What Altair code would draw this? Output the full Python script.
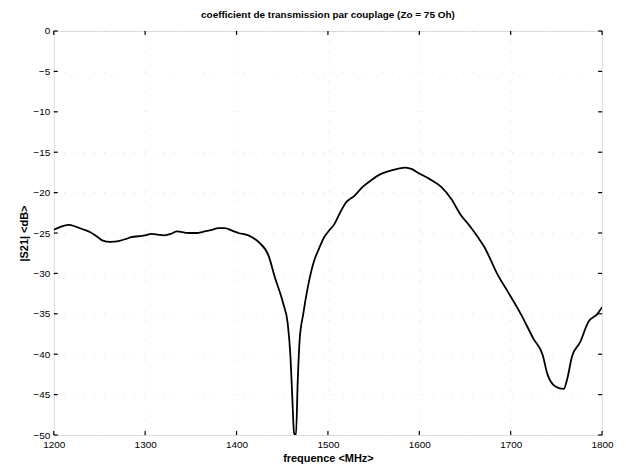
import altair as alt
import pandas as pd

freq = [1200,1208,1216,1224,1231,1240,1248,1253,1262,1271,1280,1285,1293,1300,1307,1314,1320,1328,1335,1341,1347,1356,1365,1373,1380,1387,1395,1402,1413,1424,1435,1442,1451,1456,1459,1461,1463,1465,1467,1469,1473,1478,1485,1490,1496,1502,1507,1511,1520,1529,1538,1547,1556,1565,1575,1585,1592,1598,1611,1624,1635,1645,1655,1664,1671,1678,1685,1696,1711,1725,1735,1740,1749,1758,1762,1767,1776,1785,1795,1800]
s21 = [-24.6,-24.2,-24.0,-24.2,-24.5,-24.9,-25.5,-25.9,-26.1,-26.0,-25.7,-25.5,-25.4,-25.3,-25.1,-25.2,-25.3,-25.1,-24.8,-24.9,-25.0,-25.0,-24.8,-24.6,-24.4,-24.4,-24.7,-25.0,-25.3,-26.1,-27.8,-30.5,-33.7,-36.2,-40.3,-45.3,-49.8,-50.0,-43.2,-38.3,-35.0,-31.7,-28.4,-27.0,-25.5,-24.6,-23.9,-23.0,-21.2,-20.4,-19.3,-18.5,-17.8,-17.4,-17.1,-16.9,-17.1,-17.5,-18.3,-19.3,-20.8,-22.7,-24.1,-25.5,-26.7,-28.3,-30.0,-32.1,-35.0,-38.1,-40.1,-42.4,-44.0,-44.3,-43.0,-40.3,-38.5,-36.0,-35.0,-34.2]

x_ticks = [1200, 1300, 1400, 1500, 1600, 1700, 1800]
y_ticks = [0, -5, -10, -15, -20, -25, -30, -35, -40, -45, -50]

title = "coefficient de transmission par couplage (Zo = 75 Oh)"
x_title = "frequence <MHz>"
y_title = "|S21| <dB>"

W, H = 551, 406
FONT = "Liberation Sans"

df = pd.DataFrame({"f": freq, "db": s21})
xt = pd.DataFrame({"f": x_ticks})
yt = pd.DataFrame({"db": y_ticks})

xscale = alt.Scale(domain=[1200, 1800], nice=False, zero=False)
yscale = alt.Scale(domain=[-50, 0], nice=False, zero=False)

line = alt.Chart(df).mark_line(color="black", strokeWidth=1.8, interpolate="monotone", clip=True).encode(
    x=alt.X("f:Q", scale=xscale, title=x_title,
            axis=alt.Axis(values=x_ticks, format="d", tickSize=0, labelPadding=5, titlePadding=3,
                          labelFlush=False, grid=True, gridColor="#999", gridDash=[1, 9],
                          gridOpacity=0.35, domain=False)),
    y=alt.Y("db:Q", scale=yscale, title=y_title,
            axis=alt.Axis(values=y_ticks, format="d", tickSize=0, labelPadding=4, titlePadding=3,
                          labelFlush=False, grid=True, gridColor="#999", gridDash=[1, 9],
                          gridOpacity=0.35, domain=False)),
)

tick_len = 4
xt_bottom = alt.Chart(xt).mark_rule(color="black", strokeWidth=1.2).encode(
    x=alt.X("f:Q", scale=xscale), y=alt.value(H), y2=alt.value(H - tick_len))
xt_top = alt.Chart(xt).mark_rule(color="black", strokeWidth=1.2).encode(
    x=alt.X("f:Q", scale=xscale), y=alt.value(0), y2=alt.value(tick_len))
yt_left = alt.Chart(yt).mark_rule(color="black", strokeWidth=1.2).encode(
    y=alt.Y("db:Q", scale=yscale), x=alt.value(0), x2=alt.value(tick_len))
yt_right = alt.Chart(yt).mark_rule(color="black", strokeWidth=1.2).encode(
    y=alt.Y("db:Q", scale=yscale), x=alt.value(W), x2=alt.value(W - tick_len))

chart = alt.layer(line, xt_bottom, xt_top, yt_left, yt_right).properties(
    width=W, height=H,
    title=alt.TitleParams(title, fontSize=10, font=FONT, fontWeight="bold", offset=6, anchor="middle"),
    autosize=alt.AutoSizeParams(type="none"),
    padding={"left": 46, "top": 22, "right": 16, "bottom": 30},
).configure_view(
    stroke="black", strokeWidth=1.5
).configure_axis(
    labelFont=FONT, titleFont=FONT, labelFontSize=10, titleFontSize=10,
    labelFontWeight="bold", titleFontWeight="bold", labelColor="black", titleColor="black",
).configure(background="white")

chart.save("out.html", embed_options={"renderer": "svg", "actions": False})
